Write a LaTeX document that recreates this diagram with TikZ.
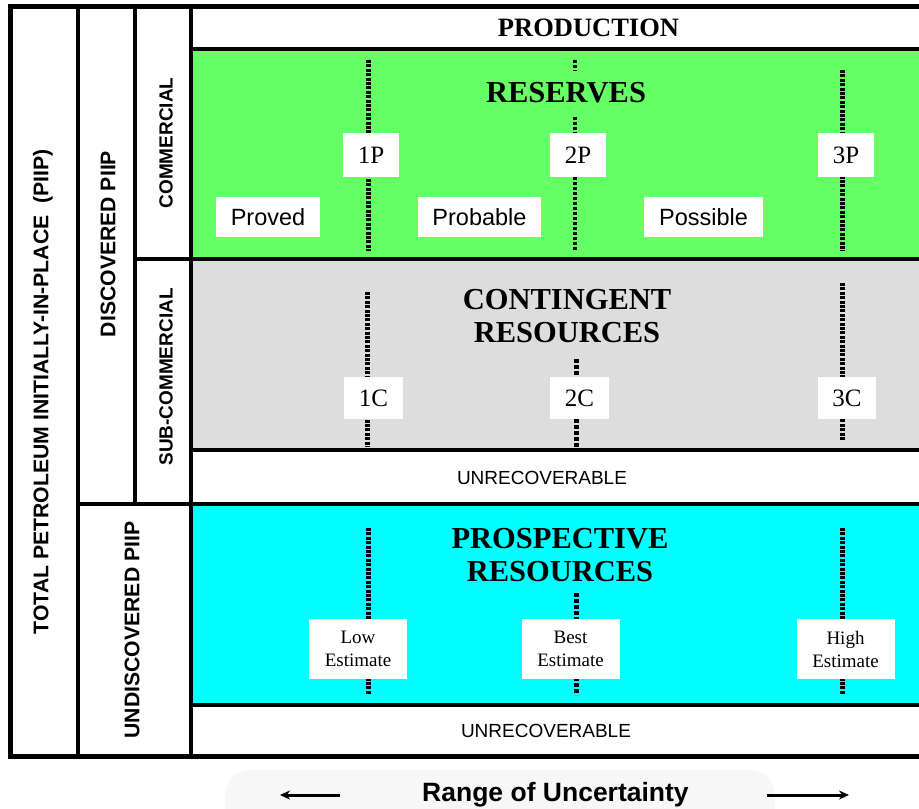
\documentclass[tikz,border=0pt]{standalone}
\usepackage{fontspec}
\setmainfont{Liberation Serif}
\setsansfont{Liberation Sans}
\usetikzlibrary{arrows.meta}
\definecolor{resgreen}{RGB}{102,255,102}
\definecolor{contgrey}{RGB}{221,221,221}
\definecolor{prospcyan}{RGB}{0,255,255}
\begin{document}
\begin{tikzpicture}[x=1pt,y=-1pt,
  frameline/.style={line width=4.5pt, line cap=rect},
  outerline/.style={line width=5pt, line cap=rect},
  densetick/.style={line width=5pt, dash pattern=on 3pt off 1.4pt},
  midtick/.style={line width=5pt, dash pattern=on 3.5pt off 2.5pt},
  thintick/.style={line width=3.5pt, dash pattern=on 2.5pt off 2.5pt},
  catbox/.style={fill=white, inner sep=0pt, minimum width=56pt, minimum height=44pt,
    font=\fontsize{25}{27}\selectfont},
  estbox/.style={fill=white, inner sep=0pt, minimum width=98pt, minimum height=60pt,
    align=center, font=\fontsize{19}{23}\selectfont},
  classbox/.style={fill=white, inner sep=0pt, minimum height=40pt,
    font=\sffamily\fontsize{23.5}{26}\selectfont},
  classtitle/.style={font=\bfseries\fontsize{30.5}{33}\selectfont, align=center},
  sidelabel/.style={rotate=90, font=\sffamily\bfseries\fontsize{21.2}{24}\selectfont},
  sidelabelsmall/.style={rotate=90, font=\sffamily\bfseries\fontsize{19}{22}\selectfont},
  smallcap/.style={font=\sffamily\fontsize{19}{21}\selectfont},
  rangearrow/.style={line width=3pt, -{Stealth[length=10pt,width=9pt]}}]

\useasboundingbox (0,0) rectangle (919,809);

% coloured resource classes
\fill[resgreen]   (191,49)  rectangle (919,259);
\fill[contgrey]   (191,259) rectangle (919,450);
\fill[prospcyan]  (191,504) rectangle (919,705);

% soft panel behind the uncertainty axis
\fill[black!3] (225,809) [rounded corners=25pt] -- (225,770) -- (775,770) [sharp corners] -- (775,809) -- cycle;

% frame and dividers
\draw[outerline] (919,6) -- (10,6) -- (10,756) -- (919,756);
\draw[frameline] (78,6) -- (78,756);
\draw[frameline] (135,6) -- (135,504);
\draw[frameline] (191,6) -- (191,756);
\draw[frameline] (191,49) -- (919,49);
\draw[frameline] (135,259) -- (919,259);
\draw[frameline] (191,450) -- (919,450);
\draw[frameline] (78,504) -- (919,504);
\draw[frameline] (191,705) -- (919,705);

% side labels
\node[sidelabel] (piip) at (43,392) {TOTAL PETROLEUM INITIALLY-IN-PLACE\ \ (PIIP)};
\node[sidelabel] (disc) at (108,244) {DISCOVERED PIIP};
\node[sidelabel] (undisc) at (132,630) {UNDISCOVERED PIIP};
\node[sidelabelsmall] (comm) at (166,143) {COMMERCIAL};
\node[sidelabelsmall] (subcomm) at (166,377) {SUB-COMMERCIAL};

% row titles
\node[font=\bfseries\fontsize{26.5}{28}\selectfont] (prod) at (588.5,28) {PRODUCTION};
\node[classtitle] (res) at (566,93) {RESERVES};
\node[classtitle] (cont) at (567,316) {CONTINGENT\\RESOURCES};
\node[classtitle] (prosp) at (560,555) {PROSPECTIVE\\RESOURCES};
\node[smallcap] (unrec1) at (542,478) {UNRECOVERABLE};
\node[smallcap] (unrec2) at (546,731) {UNRECOVERABLE};

% reserves: uncertainty lines
\coordinate (p1t) at (368,60);  \coordinate (p1b) at (368,251);
\coordinate (p2t) at (575,60);  \coordinate (p2m) at (575,71);
\coordinate (p2n) at (575,117); \coordinate (p2b) at (575,251);
\coordinate (p3t) at (842,70);  \coordinate (p3b) at (842,251);
\draw[densetick] (p1t) -- (p1b);
\draw[thintick] (p2t) -- (p2m);
\draw[thintick] (p2n) -- (p2b);
\draw[densetick] (p3t) -- (p3b);
\node[catbox] (n1p) at (371,155) {1P};
\node[catbox] (n2p) at (578,155) {2P};
\node[catbox] (n3p) at (846,155) {3P};
\node[classbox, minimum width=104pt] (proved) at (268,217) {Proved};
\node[classbox, minimum width=123pt] (probable) at (479.5,217) {Probable};
\node[classbox, minimum width=119pt] (possible) at (703.5,217) {Possible};

% contingent resources: uncertainty lines
\coordinate (c1t) at (367,292); \coordinate (c1b) at (367,447);
\coordinate (c2t) at (576,359); \coordinate (c2b) at (576,447);
\coordinate (c3t) at (842,283); \coordinate (c3b) at (842,440);
\draw[densetick] (c1t) -- (c1b);
\draw[midtick] (c2t) -- (c2b);
\draw[densetick] (c3t) -- (c3b);
\node[catbox, minimum width=59pt, minimum height=42pt] (n1c) at (373.5,398) {1C};
\node[catbox, minimum width=59pt, minimum height=42pt] (n2c) at (579.5,398) {2C};
\node[catbox, minimum width=58pt, minimum height=42pt] (n3c) at (847,398) {3C};

% prospective resources: uncertainty lines
\coordinate (lowt) at (368,528);  \coordinate (lowb) at (368,695);
\coordinate (bestt) at (576,593); \coordinate (bestb) at (576,695);
\coordinate (hight) at (842,528); \coordinate (highb) at (842,695);
\draw[densetick] (lowt) -- (lowb);
\draw[midtick] (bestt) -- (bestb);
\draw[densetick] (hight) -- (highb);
\node[estbox] (low) at (358,648.5) {Low\\Estimate};
\node[estbox] (best) at (570.5,649) {Best\\Estimate};
\node[estbox] (high) at (845.5,649) {High\\Estimate};

% range of uncertainty axis
\node[font=\sffamily\bfseries\fontsize{26.5}{28}\selectfont] (range) at (555.5,795) {Range of Uncertainty};
\coordinate (la) at (340,795); \coordinate (lb) at (280,795);
\coordinate (ra) at (767,795); \coordinate (rb) at (849,795);
\draw[rangearrow] (la) -- (lb);
\draw[rangearrow] (ra) -- (rb);
\end{tikzpicture}
\end{document}
